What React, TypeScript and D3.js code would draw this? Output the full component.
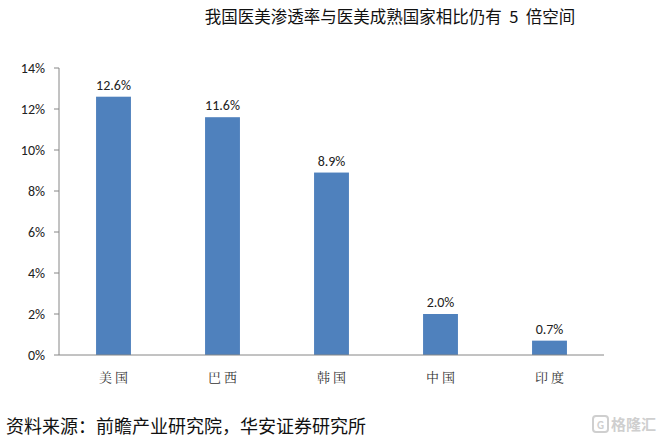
import React from "react";
import * as d3 from "d3";

const categories = ["美国", "巴西", "韩国", "中国", "印度"];
const values = [12.6, 11.6, 8.9, 2.0, 0.7];
const yTicks = [0, 2, 4, 6, 8, 10, 12, 14];
const title = "我国医美渗透率与医美成熟国家相比仍有  5  倍空间";
const source = "资料来源：前瞻产业研究院，华安证券研究所";

export default function App() {
  const W = 660, H = 438;
  const left = 59, right = 604, top = 68, bottom = 355;
  const x = d3.scaleBand<string>().domain(categories).range([left, right]).paddingInner(0.68).paddingOuter(0.34);
  const y = d3.scaleLinear().domain([0, 14]).range([bottom, top]);
  const axisColor = "#868686";
  const sans = "Calibri, Carlito, 'Liberation Sans', 'Open Sans', sans-serif";
  const cjk = "'Noto Sans CJK SC', sans-serif";
  return (
    <svg width={W} height={H} style={{ position: "absolute", left: 0, top: 0, background: "#fff" }}>
      <text x={390} y={23} textAnchor="middle" fontFamily={cjk} fontSize={16.5} fill="#111" style={{ whiteSpace: "pre" }}>{title}</text>
      {yTicks.map((t) => (
        <g key={t}>
          <line x1={left - 5} x2={left} y1={y(t)} y2={y(t)} stroke={axisColor} />
          <text x={left - 14} y={y(t) + 5} textAnchor="end" fontFamily={sans} fontSize={14} fill="#222">{`${t}%`}</text>
        </g>
      ))}
      <line x1={left} x2={left} y1={top} y2={bottom} stroke={axisColor} />
      {categories.map((c, i) => (
        <g key={c}>
          <rect x={x(c)} y={y(values[i])} width={x.bandwidth()} height={bottom - y(values[i])} fill="#4F81BD" />
          <text x={(x(c) as number) + x.bandwidth() / 2} y={y(values[i]) - 7} textAnchor="middle" fontFamily={sans} fontSize={14} fill="#222">{`${values[i].toFixed(1)}%`}</text>
          <text x={(x(c) as number) + x.bandwidth() / 2 + 1.5} y={382} textAnchor="middle" fontFamily="'Noto Serif CJK SC', 'Noto Sans CJK SC', serif" fontSize={13} fill="#333" letterSpacing={3}>{c}</text>
        </g>
      ))}
      <line x1={left} x2={right} y1={bottom} y2={bottom} stroke={axisColor} />
      <text x={6} y={433} fontFamily={cjk} fontSize={18} fill="#111">{source}</text>
      <rect x={593} y={416} width={15} height={16} rx={3} fill="none" stroke="#cfcfcf" strokeWidth={2} />
      <text x={600.5} y={428.5} textAnchor="middle" fontFamily={sans} fontSize={11} fill="#cfcfcf" fontWeight="bold">G</text>
      <text x={611} y={430} fontFamily={cjk} fontSize={15} fill="#cfcfcf" fontWeight="bold">格隆汇</text>
    </svg>
  );
}
